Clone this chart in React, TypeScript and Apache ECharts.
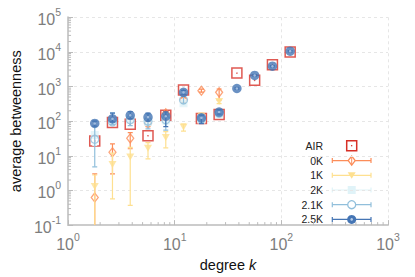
import React, { useEffect, useRef } from 'react';
import * as echarts from 'echarts';

// degree bins
const degreeK = [1.78, 2.61, 3.83, 5.62, 8.25, 12.1, 17.8, 26.1, 38.3, 56.2, 82.5, 121];

// AIR
const airValues = [27, 92, 81, 38, 148, 790, 120, 155, 2450, 1510, 4300, 10000];

// 0K
const k0Values = [0.63, 12.7, 32, 85, 170, 420, 760, 680, null, null, null, null];
const k0Low = [0.02, 3, 16, 70, 150, 360, 690, 410, null, null, null, null];
const k0High = [3, 22, 47, 100, 190, 480, 840, 850, null, null, null, null];

// 1K
const k1Values = [1.3, 5.6, 9.2, 16.5, 34, 68, 140, 370, null, null, null, null];
const k1Low = [0.02, 0.57, 0.37, 8.2, 17, 52, 110, 320, null, null, null, null];
const k1High = [2.8, 12, 17.6, 24, 50, 82, 170, 420, null, null, null, null];

// 2K
const k2Values = [40, 100, 110, 95, 105, 330, 110, 160, null, null, null, null];
const k2Low = [20, 85, 90, 75, 80, 290, 95, 145, null, null, null, null];
const k2High = [70, 120, 130, 115, 130, 380, 130, 180, null, null, null, null];

// 2.1K
const k21Values = [30, 95, 110, 100, 110, 410, 115, 170, null, null, null, null];
const k21Low = [4.8, 80, 75, 60, 55, 330, 90, 140, null, null, null, null];
const k21High = [100, 175, 150, 160, 160, 520, 150, 210, null, null, null, null];

// 2.5K
const k25Values = [86, 117, 148, 131, 139, 680, 125, 184, 880, 2100, 3870, 10500];
const k25Low = [72, 95, 118, 100, 70, 600, 85, 160, 840, 2000, 3700, 10000];
const k25High = [100, 170, 190, 170, 185, 780, 150, 215, 920, 2200, 4050, 11000];

const legendNames = ['AIR', '0K', '1K', '2K', '2.1K', '2.5K'];

const C_AIR = '#d73027';
const C_0K = '#fc8d59';
const C_1K = '#fee090';
const C_2K = '#e0f3f8';
const C_21K = '#91bfdb';
const C_25K = '#4575b4';

const FONT = 'Liberation Sans, Arial, Helvetica, sans-serif';

function pts(vals: (number | null)[]) {
  const out: number[][] = [];
  vals.forEach((v, i) => {
    if (v != null) out.push([degreeK[i], v]);
  });
  return out;
}

function errs(lo: (number | null)[], hi: (number | null)[]) {
  const out: number[][] = [];
  lo.forEach((l, i) => {
    const h = hi[i];
    if (l != null && h != null) out.push([degreeK[i], l, h]);
  });
  return out;
}

function errorSeries(data: number[][], color: string, z: number) {
  return {
    type: 'custom',
    clip: true,
    z,
    silent: true,
    data,
    renderItem: (params: any, api: any) => {
      const x = api.value(0);
      const lo = api.value(1);
      const hi = api.value(2);
      const p1 = api.coord([x, hi]);
      const p2 = api.coord([x, lo]);
      const w = 2.5;
      const st = { stroke: color, lineWidth: 1.2 };
      return {
        type: 'group',
        children: [
          { type: 'line', shape: { x1: p1[0], y1: p1[1], x2: p2[0], y2: p2[1] }, style: st },
          { type: 'line', shape: { x1: p1[0] - w, y1: p1[1], x2: p1[0] + w, y2: p1[1] }, style: st },
          { type: 'line', shape: { x1: p2[0] - w, y1: p2[1], x2: p2[0] + w, y2: p2[1] }, style: st },
        ],
      };
    },
  };
}

// minor tick positions (axis decoration)
const xMinor: number[][] = [];
[1, 10, 100].forEach((d) => {
  [2, 3, 4, 5, 6, 7, 8, 9].forEach((m) => xMinor.push([m * d, 0.1]));
});
const yMinor: number[][] = [];
[0.1, 1, 10, 100, 1000, 10000].forEach((d) => {
  [2, 3, 4, 5, 6, 7, 8, 9].forEach((m) => yMinor.push([1, m * d]));
});

function supLabel(v: number) {
  const e = Math.round(Math.log10(v));
  return '{b|10}{s|' + e + '}';
}

const labelRich = {
  b: { fontSize: 16, lineHeight: 21, color: '#7d7d7d', fontFamily: FONT, verticalAlign: 'bottom' },
  s: { fontSize: 10.5, lineHeight: 11, color: '#7d7d7d', fontFamily: FONT, verticalAlign: 'top' },
};

function legendGraphics() {
  const els: any[] = [];
  const xText = 323;
  const xSym = 351.7;
  const x1 = 332.3;
  const x2 = 371;
  const ys = [145.7, 160.6, 175.3, 190, 204.7, 219.4];
  const colors = [C_AIR, C_0K, C_1K, C_2K, C_21K, C_25K];
  legendNames.forEach((name, i) => {
    const y = ys[i];
    const c = colors[i];
    els.push({
      type: 'text',
      x: xText,
      y,
      style: { text: name, fill: '#222', font: '10.5px ' + FONT, align: 'right', verticalAlign: 'middle' },
    });
    if (i > 0) {
      els.push({ type: 'line', shape: { x1, y1: y, x2, y2: y }, style: { stroke: c, lineWidth: 1.2 } });
      els.push({ type: 'line', shape: { x1, y1: y - 2.5, x2: x1, y2: y + 2.5 }, style: { stroke: c, lineWidth: 1.2 } });
      els.push({ type: 'line', shape: { x1: x2, y1: y - 2.5, x2, y2: y + 2.5 }, style: { stroke: c, lineWidth: 1.2 } });
    }
    if (i === 0) {
      els.push({ type: 'rect', shape: { x: xSym - 5, y: y - 5, width: 10, height: 10 }, style: { fill: 'none', stroke: c, lineWidth: 1.5 } });
      els.push({ type: 'circle', shape: { cx: xSym, cy: y, r: 0.7 }, style: { fill: c } });
    } else if (i === 1) {
      els.push({ type: 'polygon', shape: { points: [[xSym, y - 4.5], [xSym + 3.5, y], [xSym, y + 4.5], [xSym - 3.5, y]] }, style: { fill: '#fff', stroke: c, lineWidth: 1.3 } });
      els.push({ type: 'line', shape: { x1: xSym, y1: y - 4, x2: xSym, y2: y + 4 }, style: { stroke: c, lineWidth: 1 } });
    } else if (i === 2) {
      els.push({ type: 'polygon', shape: { points: [[xSym - 4, y - 3], [xSym + 4, y - 3], [xSym, y + 3.5]] }, style: { fill: c } });
    } else if (i === 3) {
      els.push({ type: 'rect', shape: { x: xSym - 4, y: y - 4, width: 8, height: 8 }, style: { fill: c } });
    } else if (i === 4) {
      els.push({ type: 'circle', shape: { cx: xSym, cy: y, r: 4 }, style: { fill: '#fff', stroke: c, lineWidth: 1.3 } });
    } else {
      els.push({ type: 'circle', shape: { cx: xSym, cy: y, r: 4.5 }, style: { fill: c } });
      els.push({ type: 'circle', shape: { cx: xSym, cy: y, r: 1.3 }, style: { fill: '#b8cde8' } });
    }
  });
  return els;
}

export default function App() {
  const ref = useRef<HTMLDivElement>(null);
  useEffect(() => {
    if (!ref.current) return;
    const chart = echarts.init(ref.current, undefined, { renderer: 'svg' });
    const option: any = {
      animation: false,
      backgroundColor: '#fff',
      textStyle: { fontFamily: FONT },
      grid: { left: 62.5, right: 27, top: 17.3, bottom: 47.7 },
      xAxis: {
        type: 'log',
        logBase: 10,
        min: 1,
        max: 1000,
        name: 'degree {i|k}',
        nameLocation: 'middle',
        nameGap: 29,
        nameTextStyle: {
          fontSize: 14.5,
          color: '#111',
          fontFamily: FONT,
          rich: { i: { fontSize: 14.5, fontStyle: 'italic', color: '#111', fontFamily: FONT } },
        },
        axisLine: { show: true, lineStyle: { color: '#cccccc', width: 2 } },
        axisTick: { show: true, inside: true, length: 5, lineStyle: { color: '#bbbbbb' } },
        splitLine: { show: true, lineStyle: { color: '#e6e6e6', type: [3, 3], width: 1 } },
        axisLabel: { margin: 6, formatter: supLabel, rich: labelRich },
      },
      yAxis: {
        type: 'log',
        logBase: 10,
        min: 0.1,
        max: 100000,
        name: 'average betweenness',
        nameLocation: 'middle',
        nameGap: 43,
        nameTextStyle: { fontSize: 14.5, color: '#111', fontFamily: FONT },
        axisLine: { show: true, lineStyle: { color: '#cccccc', width: 2 } },
        axisTick: { show: true, inside: true, length: 5, lineStyle: { color: '#bbbbbb' } },
        splitLine: { show: true, lineStyle: { color: '#e6e6e6', type: [3, 3], width: 1 } },
        axisLabel: { margin: 7, formatter: supLabel, rich: labelRich },
      },
      graphic: legendGraphics(),
      series: [
        {
          type: 'custom',
          silent: true,
          z: 1,
          data: xMinor,
          renderItem: (p: any, api: any) => {
            const c = api.coord([api.value(0), api.value(1)]);
            return { type: 'line', shape: { x1: c[0], y1: c[1], x2: c[0], y2: c[1] - 3 }, style: { stroke: '#bbbbbb', lineWidth: 1 } };
          },
        },
        {
          type: 'custom',
          silent: true,
          z: 1,
          data: yMinor,
          renderItem: (p: any, api: any) => {
            const c = api.coord([api.value(0), api.value(1)]);
            return { type: 'line', shape: { x1: c[0], y1: c[1], x2: c[0] + 3, y2: c[1] }, style: { stroke: '#bbbbbb', lineWidth: 1 } };
          },
        },
        {
          name: 'AIR',
          type: 'scatter',
          z: 3,
          data: pts(airValues),
          symbol: 'rect',
          symbolSize: 10,
          itemStyle: { color: 'rgba(255,255,255,0)', borderColor: C_AIR, borderWidth: 1.5 },
        },
        {
          type: 'scatter',
          z: 3,
          data: pts(airValues),
          symbol: 'circle',
          symbolSize: 1.5,
          itemStyle: { color: C_AIR },
        },
        errorSeries(errs(k0Low, k0High), C_0K, 4),
        {
          name: '0K',
          type: 'scatter',
          z: 4,
          data: pts(k0Values),
          symbol: 'diamond',
          symbolSize: [7, 9],
          itemStyle: { color: 'rgba(255,255,255,0)', borderColor: C_0K, borderWidth: 1.3 },
        },
        errorSeries(errs(k1Low, k1High), C_1K, 5),
        {
          name: '1K',
          type: 'scatter',
          z: 5,
          data: pts(k1Values),
          symbol: 'triangle',
          symbolRotate: 180,
          symbolSize: [8, 7],
          itemStyle: { color: C_1K },
        },
        errorSeries(errs(k2Low, k2High), C_2K, 6),
        {
          name: '2K',
          type: 'scatter',
          z: 6,
          data: pts(k2Values),
          symbol: 'rect',
          symbolSize: 8,
          itemStyle: { color: C_2K },
        },
        errorSeries(errs(k21Low, k21High), C_21K, 7),
        {
          name: '2.1K',
          type: 'scatter',
          z: 7,
          data: pts(k21Values),
          symbol: 'circle',
          symbolSize: 8,
          itemStyle: { color: 'rgba(255,255,255,0)', borderColor: C_21K, borderWidth: 1.3 },
        },
        errorSeries(errs(k25Low, k25High), C_25K, 8),
        {
          name: '2.5K',
          type: 'scatter',
          z: 8,
          data: pts(k25Values),
          symbol: 'circle',
          symbolSize: 9.5,
          itemStyle: { color: C_25K },
        },
        {
          type: 'scatter',
          z: 8,
          data: pts(k25Values),
          symbol: 'circle',
          symbolSize: 2.5,
          itemStyle: { color: '#b8cde8' },
        },
      ],
    };
    chart.setOption(option);
    return () => {
      chart.dispose();
    };
  }, []);
  return (
    <div
      ref={ref}
      style={{ position: 'fixed', left: 0, top: 0, width: 415, height: 277, background: '#fff' }}
    />
  );
}
